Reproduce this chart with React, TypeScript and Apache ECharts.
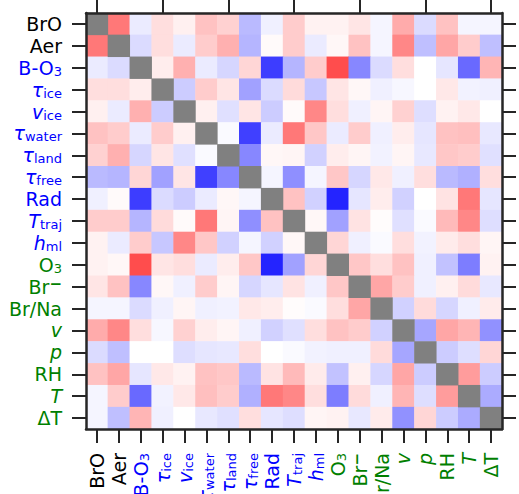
import React, { useEffect, useRef } from 'react';
import * as echarts from 'echarts';

// Variable names (plain) and label parts
const variables = ['BrO', 'Aer', 'B-O3', 'τice', 'vice', 'τwater', 'τland', 'τfree', 'Rad', 'Ttraj', 'hml', 'O3', 'Br−', 'Br/Na', 'v', 'p', 'RH', 'T', 'ΔT'];
const labelMain = ['BrO', 'Aer', 'B-O', 'τ', 'v', 'τ', 'τ', 'τ', 'Rad', 'T', 'h', 'O', 'Br', 'Br/Na', 'v', 'p', 'RH', 'T', 'ΔT'];
const labelItalic = [false, false, false, true, true, true, true, true, false, true, true, false, false, false, true, true, false, true, false];
const labelSub = ['', '', '3', 'ice', 'ice', 'water', 'land', 'free', '', 'traj', 'ml', '3', '', '', '', '', '', '', ''];
const labelSup = ['', '', '', '', '', '', '', '', '', '', '', '', '−', '', '', '', '', '', ''];
const labelGroup = ['k', 'k', 'b', 'b', 'b', 'b', 'b', 'b', 'b', 'b', 'b', 'g', 'g', 'g', 'g', 'g', 'g', 'g', 'g'];
const groupColors: Record<string, string> = { k: '#000000', b: '#0000ff', g: '#008000' };

// Correlation matrix (rows top→bottom, columns left→right); null on diagonal
const r00 = [null, 0.53, -0.08, 0.13, 0.06, 0.24, 0.18, -0.27, -0.06, 0.2, 0.05, 0.05, 0.1, -0.04, 0.33, -0.14, 0.24, -0.04, -0.04];
const r01 = [0.53, null, -0.14, 0.13, -0.08, 0.2, 0.31, -0.29, 0.02, 0.2, -0.08, 0.03, 0.24, -0.04, 0.47, -0.25, 0.35, 0.2, -0.25];
const r02 = [-0.08, -0.14, null, 0.07, 0.31, -0.08, -0.16, 0.16, -0.76, -0.29, 0.2, 0.7, -0.47, -0.14, 0.13, 0, -0.1, -0.59, 0.29];
const r03 = [0.13, 0.13, 0.07, null, -0.2, 0.2, 0.1, -0.37, -0.14, 0.14, -0.22, 0.1, 0.03, -0.06, -0.03, 0, 0.09, -0.05, -0.06];
const r04 = [0.06, -0.08, 0.31, -0.2, null, 0.06, -0.12, 0.1, -0.2, 0.02, 0.47, 0.13, -0.06, 0.04, 0.18, -0.13, 0.05, 0.09, 0];
const r05 = [0.24, 0.2, -0.08, 0.2, 0.06, null, -0.02, -0.75, -0.08, 0.53, 0.22, -0.08, 0.2, -0.06, 0.07, -0.1, 0.24, 0.25, -0.09];
const r06 = [0.18, 0.31, -0.16, 0.1, -0.12, -0.02, null, -0.47, 0.03, 0.04, -0.18, 0.07, 0.04, -0.05, 0.04, -0.09, 0.22, 0.2, -0.12];
const r07 = [-0.27, -0.29, 0.16, -0.37, 0.1, -0.75, -0.47, null, -0.04, -0.44, -0.04, 0.22, -0.16, 0.09, -0.06, 0.13, -0.27, -0.31, 0.13];
const r08 = [-0.06, 0.02, -0.76, -0.14, -0.2, -0.08, 0.03, -0.04, null, 0.24, -0.18, -0.86, -0.1, 0.07, -0.18, 0, 0.11, 0.53, -0.1];
const r09 = [0.2, 0.2, -0.29, 0.14, 0.02, 0.53, 0.04, -0.44, 0.24, null, 0.03, -0.37, 0.11, 0.01, -0.12, -0.02, 0.27, 0.47, -0.13];
const r10 = [0.05, -0.08, 0.2, -0.22, 0.47, 0.22, -0.18, -0.04, -0.18, 0.03, null, 0.16, -0.06, -0.02, 0.13, -0.05, 0.08, 0.13, 0.04];
const r11 = [0.05, 0.03, 0.7, 0.1, 0.13, -0.08, 0.07, 0.22, -0.86, -0.37, 0.16, null, 0.22, 0.13, 0.24, -0.06, -0.24, -0.51, 0.05];
const r12 = [0.1, 0.24, -0.47, 0.03, -0.06, 0.2, 0.04, -0.16, -0.1, 0.11, -0.06, 0.22, null, 0.35, 0.2, -0.06, 0.06, 0.14, -0.09];
const r13 = [-0.04, -0.04, -0.14, -0.06, 0.04, -0.06, -0.05, 0.09, 0.07, 0.01, -0.02, 0.13, 0.35, null, -0.18, 0.14, -0.16, -0.06, 0.08];
const r14 = [0.33, 0.47, 0.13, -0.03, 0.18, 0.07, 0.04, -0.06, -0.18, -0.12, 0.13, 0.24, 0.2, -0.18, null, -0.35, 0.35, 0.29, -0.43];
const r15 = [-0.14, -0.25, 0, 0, -0.13, -0.1, -0.09, 0.13, 0, -0.02, -0.05, -0.06, -0.06, 0.14, -0.35, null, -0.2, -0.13, 0.16];
const r16 = [0.24, 0.35, -0.1, 0.09, 0.05, 0.24, 0.22, -0.27, 0.11, 0.27, 0.08, -0.24, 0.06, -0.16, 0.35, -0.2, null, 0.39, -0.2];
const r17 = [-0.04, 0.2, -0.59, -0.05, 0.09, 0.25, 0.2, -0.31, 0.53, 0.47, 0.13, -0.51, 0.14, -0.06, 0.29, -0.13, 0.39, null, -0.33];
const r18 = [-0.04, -0.25, 0.29, -0.06, 0, -0.09, -0.12, 0.13, -0.1, -0.13, 0.04, 0.05, -0.09, 0.08, -0.43, 0.16, -0.2, -0.33, null];
const matrix = [r00, r01, r02, r03, r04, r05, r06, r07, r08, r09, r10, r11, r12, r13, r14, r15, r16, r17, r18];

const FONT = 'DejaVu Sans';
const FS = 19;
const SUBFS = 13;

function buildRich() {
  const rich: Record<string, any> = {};
  Object.keys(groupColors).forEach((g) => {
    const c = groupColors[g];
    rich['n' + g] = { color: c, fontFamily: FONT, fontSize: FS, lineHeight: 20, verticalAlign: 'middle' };
    rich['i' + g] = { color: c, fontFamily: FONT, fontSize: FS, fontStyle: 'italic', lineHeight: 20, verticalAlign: 'middle' };
    rich['s' + g] = { color: c, fontFamily: FONT, fontSize: SUBFS, lineHeight: 10, verticalAlign: 'bottom' };
    rich['p' + g] = { color: c, fontFamily: FONT, fontSize: SUBFS + 2, fontWeight: 'bold', lineHeight: 8, verticalAlign: 'top' };
  });
  return rich;
}

function labelRich(idx: number) {
  const g = labelGroup[idx];
  let s = `{${labelItalic[idx] ? 'i' : 'n'}${g}|${labelMain[idx]}}`;
  if (labelSub[idx]) s += `{s${g}|${labelSub[idx]}}`;
  if (labelSup[idx]) s += `{p${g}|${labelSup[idx]}}`;
  return s;
}

export default function App() {
  const ref = useRef<HTMLDivElement>(null);
  useEffect(() => {
    document.body.style.margin = '0';
    if (!ref.current) return;
    const chart = echarts.init(ref.current, undefined, { renderer: 'svg' });
    const offDiag: any[] = [];
    const diag: any[] = [];
    matrix.forEach((row, i) => {
      row.forEach((v, j) => {
        if (v === null) diag.push([j, i, 1]);
        else offDiag.push([j, i, v]);
      });
    });
    const rich = buildRich();
    const frame = { show: true, lineStyle: { color: '#262626', width: 2.5 } };
    const tick = { show: true, alignWithLabel: true, length: 14, lineStyle: { color: '#262626', width: 2 } };
    const fmt = (_v: string, idx: number) => labelRich(idx);
    chart.setOption({
      animation: false,
      grid: { left: 86, right: 17, top: 13, bottom: 65, containLabel: false, outerBoundsMode: 'none' },
      visualMap: [
        {
          show: false,
          type: 'continuous',
          seriesIndex: 0,
          min: -1,
          max: 1,
          inRange: { color: ['#0000ff', '#ffffff', '#ff0000'] },
        },
        {
          show: false,
          type: 'continuous',
          seriesIndex: 1,
          min: 0,
          max: 2,
          inRange: { color: ['#808080', '#808080'] },
        },
      ],
      xAxis: [
        {
          type: 'category', position: 'bottom', data: variables, z: 10,
          axisLine: frame, axisTick: tick, splitLine: { show: false },
          axisLabel: { interval: 0, rotate: 90, margin: 24, formatter: fmt, rich, fontFamily: FONT, fontSize: FS },
        },
        {
          type: 'category', position: 'top', data: variables, z: 10,
          axisLine: frame, axisTick: tick, splitLine: { show: false }, axisLabel: { show: false },
        },
      ],
      yAxis: [
        {
          type: 'category', position: 'left', inverse: true, data: variables, z: 10,
          axisLine: frame, axisTick: tick, splitLine: { show: false },
          axisLabel: { interval: 0, margin: 24, formatter: fmt, rich, fontFamily: FONT, fontSize: FS },
        },
        {
          type: 'category', position: 'right', inverse: true, data: variables, z: 10,
          axisLine: frame, axisTick: tick, splitLine: { show: false }, axisLabel: { show: false },
        },
      ],
      series: [
        { type: 'heatmap', xAxisIndex: 0, yAxisIndex: 0, data: offDiag, itemStyle: { borderWidth: 0 } },
        { type: 'heatmap', xAxisIndex: 0, yAxisIndex: 0, data: diag, itemStyle: { borderWidth: 0 } },
      ],
    });
    return () => chart.dispose();
  }, []);
  return <div ref={ref} style={{ width: 519, height: 494 }} />;
}
